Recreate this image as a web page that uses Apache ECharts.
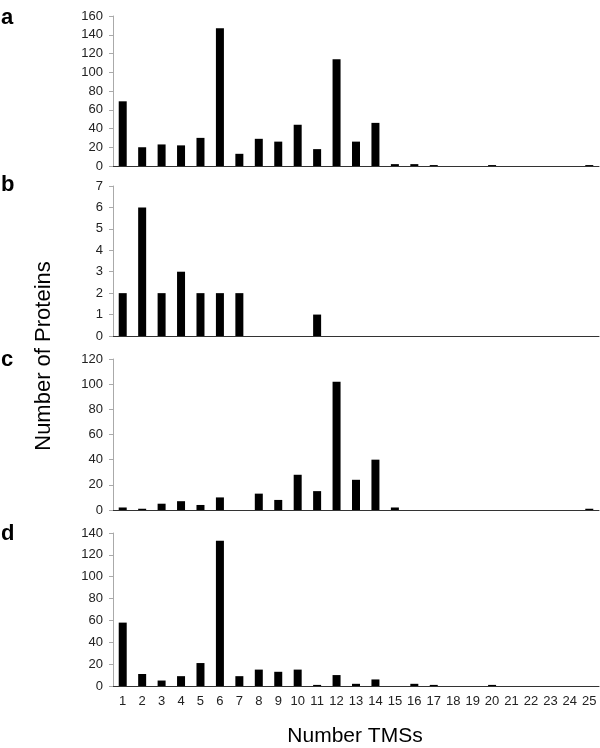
<!DOCTYPE html>
<html>
<head>
<meta charset="utf-8">
<script src="https://cdn.jsdelivr.net/npm/echarts@6/dist/echarts.min.js"></script>
<style>
html,body{margin:0;padding:0;background:#fff;}
#chart{width:600px;height:748px;}
</style>
</head>
<body>
<div id="chart"></div>
<script>
const categories = ['1','2','3','4','5','6','7','8','9','10','11','12','13','14','15','16','17','18','19','20','21','22','23','24','25'];
const panelA = [69,20,23,22,30,147,13,29,26,44,18,114,26,46,2,2,1,0,0,1,0,0,0,0,1];
const panelB = [2,6,2,3,2,2,2,0,0,0,1,0,0,0,0,0,0,0,0,0,0,0,0,0,0];
const panelC = [2,1,5,7,4,10,0,13,8,28,15,102,24,40,2,0,0,0,0,0,0,0,0,0,1];
const panelD = [58,11,5,9,21,133,9,15,13,15,1,10,2,6,0,2,1,0,0,1,0,0,0,0,0];
const panelLetters = ['a','b','c','d'];
const yMax = [160,7,120,140];
const yInterval = [20,1,20,20];
const xTitle = 'Number TMSs';
const yTitle = 'Number of Proteins';

const panels = [panelA, panelB, panelC, panelD];
const grids = [
  {top:16, height:150},
  {top:186, height:150},
  {top:359, height:151},
  {top:533, height:153}
];
const FONT = '"Liberation Sans", Arial, Helvetica, sans-serif';

const chart = echarts.init(document.getElementById('chart'), null, {renderer:'canvas'});
const option = {
  animation:false,
  backgroundColor:'#fff',
  grid: grids.map(g => ({left:113, right:1, top:g.top, height:g.height, containLabel:false})),
  xAxis: panels.map((p,i) => ({
    type:'category', gridIndex:i, data:categories, boundaryGap:true,
    axisLine:{show:true, lineStyle:{color:'#333', width:1}},
    axisTick:{show:false},
    axisLabel:{show:i===3, color:'#222', fontSize:13, fontFamily:FONT, margin:9, interval:0}
  })),
  yAxis: panels.map((p,i) => ({
    type:'value', gridIndex:i, min:0, max:yMax[i], interval:yInterval[i],
    splitLine:{show:false},
    axisLine:{show:true, lineStyle:{color:'#aaa', width:1}},
    axisTick:{show:true, length:4, lineStyle:{color:'#aaa'}},
    axisLabel:{color:'#222', fontSize:13, fontFamily:FONT, margin:10}
  })),
  series: panels.map((p,i) => ({
    type:'bar', xAxisIndex:i, yAxisIndex:i, data:p, barWidth:8,
    itemStyle:{color:'#000'}
  })),
  graphic: [
    ...panelLetters.map((l,i) => ({
      type:'text', left:1, top:[7,174,349,523][i],
      style:{text:l, font:'bold 22px ' + FONT, fill:'#000'}
    })),
    {type:'text', x:44, y:356, rotation:Math.PI/2,
     style:{text:yTitle, font:'22px ' + FONT, fill:'#000', align:'center', verticalAlign:'middle'}},
    {type:'text', x:355, y:736,
     style:{text:xTitle, font:'21px ' + FONT, fill:'#000', align:'center', verticalAlign:'middle'}}
  ]
};
chart.setOption(option);
</script>
</body>
</html>
